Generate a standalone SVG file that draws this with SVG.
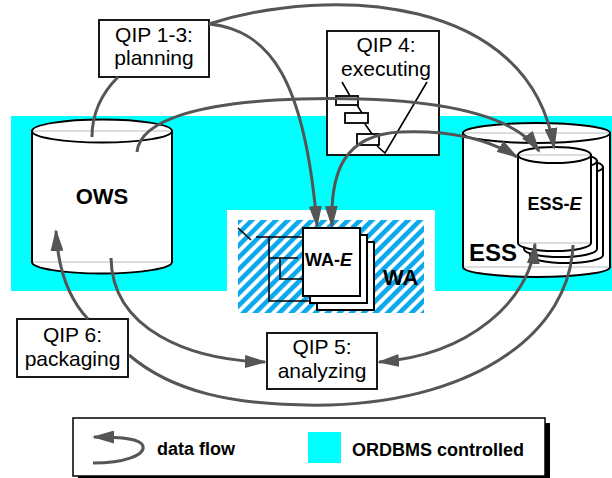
<svg xmlns="http://www.w3.org/2000/svg" width="612" height="478" viewBox="0 0 612 478">
<style>
text{font-family:"Liberation Sans",Arial,Helvetica,sans-serif;fill:#000}
.lbl{font-size:21px;text-anchor:middle}
.big{font-size:22px;font-weight:bold}
.box{fill:#fff;stroke:#000;stroke-width:1.8}
.cyl{fill:#fff;stroke:#000;stroke-width:2}
.mid{stroke:#bbb;stroke-width:1;fill:none}
.thin{stroke:#000;stroke-width:1.6;fill:none}
.flow{fill:none;stroke:#555;stroke-width:3}
.leg{font-size:18px;font-weight:bold}
</style>
<defs>
<marker id="ah" markerUnits="userSpaceOnUse" markerWidth="22" markerHeight="13" refX="20" refY="6.5" orient="auto-start-reverse">
<path d="M0,0 L22,6.5 L0,13 z" fill="#555"/>
</marker>
<pattern id="hatch" patternUnits="userSpaceOnUse" width="8.5" height="8.5" patternTransform="rotate(45)">
<rect x="0" y="0" width="4.6" height="8.5" fill="#0AA8EC"/>
</pattern>
</defs>
<rect width="612" height="478" fill="#fff"/>
<g id="ordbms-region">
<rect x="11" y="116" width="601" height="175" fill="#00FFFF"/>
</g>
<g id="WA">
<rect x="227" y="210" width="208" height="81" fill="#fff"/>
<rect x="238" y="220" width="186" height="93" fill="url(#hatch)"/>
<path class="thin" d="M238,228 L251,240 M256,237 L303,237 M269,237 L269,301 L317,301 M269,258 L298,258 M280,258 L280,279 L303,279"/>
<text class="big" x="383" y="285" font-size="22">WA</text>
</g>
<g id="WA-E">
<rect class="cyl" x="317" y="242" width="57" height="68"/>
<rect class="cyl" x="310" y="235" width="57" height="68"/>
<rect class="cyl" x="303" y="228" width="57" height="68"/>
<text x="305" y="266" style="font-size:18px;font-weight:bold">WA-<tspan font-style="italic">E</tspan></text>
</g>
<g id="OWS">
<path class="cyl" d="M32,131 L32,262 A70,11.5 0 0 0 172,262 L172,131 Z"/>
<ellipse class="cyl" cx="102" cy="131" rx="70" ry="11.5"/>
<line class="mid" x1="33" y1="131" x2="171" y2="131"/>
<line class="mid" x1="33" y1="262" x2="171" y2="262"/>
<text class="big" x="102" y="204" text-anchor="middle">OWS</text>
</g>
<g id="ESS">
<path class="cyl" d="M463,133 L463,267 A73.5,10 0 0 0 610,267 L610,133 Z"/>
<ellipse class="cyl" cx="536.5" cy="133" rx="73.5" ry="10"/>
<line class="mid" x1="464" y1="133" x2="609" y2="133"/>
<line class="mid" x1="464" y1="267" x2="609" y2="267"/>
<text x="469" y="261" style="font-size:24px;font-weight:bold">ESS</text>
</g>
<g id="ESS-E">
<path class="cyl" d="M530,167 L530,255 A36.5,8 0 0 0 603,255 L603,167 Z"/>
<ellipse class="cyl" cx="566.5" cy="167" rx="36.5" ry="8"/>
<path class="cyl" d="M524,161 L524,249 A36.5,8 0 0 0 597,249 L597,161 Z"/>
<ellipse class="cyl" cx="560.5" cy="161" rx="36.5" ry="8"/>
<path class="cyl" d="M518,155 L518,243 A36.5,8 0 0 0 591,243 L591,155 Z"/>
<ellipse class="cyl" cx="554.5" cy="155" rx="36.5" ry="8"/>
<line class="mid" x1="519" y1="155" x2="590" y2="155"/>
<line class="mid" x1="519" y1="243" x2="590" y2="243"/>
<text x="554.5" y="210" text-anchor="middle" style="font-size:18px;font-weight:bold">ESS-<tspan font-style="italic">E</tspan></text>
</g>
<g id="QIP1-3">
<rect class="box" x="99" y="20" width="110" height="57"/>
<text class="lbl" x="154" y="42">QIP 1-3:</text>
<text class="lbl" x="154" y="65">planning</text>
</g>
<g id="QIP4">
<rect class="box" x="327" y="31" width="112" height="124"/>
<text class="lbl" x="386" y="52">QIP 4:</text>
<text class="lbl" x="386" y="76">executing</text>
<path class="thin" d="M342,82 L350,96 M357,105 L362,113 M365,124 L372,134 M377,146 L385,153 L427,82"/>
<rect class="box" x="336" y="96" width="22" height="9" stroke-width="1.5"/>
<rect class="box" x="345" y="113" width="23" height="10" stroke-width="1.5"/>
<rect class="box" x="357" y="134" width="22" height="11" stroke-width="1.5"/>
</g>
<g id="QIP5">
<rect class="box" x="267" y="333" width="110" height="56"/>
<text class="lbl" x="322" y="354">QIP 5:</text>
<text class="lbl" x="322" y="378">analyzing</text>
</g>
<g id="QIP6">
<rect class="box" x="17" y="319" width="111" height="58"/>
<text class="lbl" x="72.5" y="342">QIP 6:</text>
<text class="lbl" x="72.5" y="366">packaging</text>
</g>
<g id="connectors">
<path class="flow" d="M118,77 C100,95 92,115 92,137"/>
<path class="flow" d="M209,24 C330,-15 530,-5 554,148" marker-end="url(#ah)"/>
<path class="flow" d="M209,24 C270,30 305,80 317,226" marker-end="url(#ah)"/>
<path class="flow" d="M137,152 C140,120 200,102 300,99 C420,96 510,110 539,151" marker-end="url(#ah)"/>
<path class="flow" d="M332,226 C330,170 345,135 400,132 C450,130 490,140 517,157" marker-start="url(#ah)" marker-end="url(#ah)"/>
<path class="flow" d="M535,244 C530,300 470,355 379,362" marker-start="url(#ah)" marker-end="url(#ah)"/>
<path class="flow" d="M573,245 C570,330 480,400 330,405 C230,407 170,390 129,355"/>
<path class="flow" d="M88,319 C70,300 58,270 56,231" marker-end="url(#ah)"/>
<path class="flow" d="M111,258 C112,330 190,360 265,362" marker-end="url(#ah)"/>
</g>
<g id="legend">
<rect x="78" y="423" width="472" height="58" fill="#000"/>
<rect x="73" y="418" width="472" height="58" fill="#fff" stroke="#000" stroke-width="1.5"/>
<path class="flow" d="M93,463 C125,463 145,455 143,446 C141,439 125,437 94,437" marker-end="url(#ah)"/>
<text class="leg" x="157" y="455">data flow</text>
<rect x="308" y="432" width="33" height="31" fill="#00FFFF"/>
<text class="leg" x="352" y="456">ORDBMS controlled</text>
</g>
</svg>
